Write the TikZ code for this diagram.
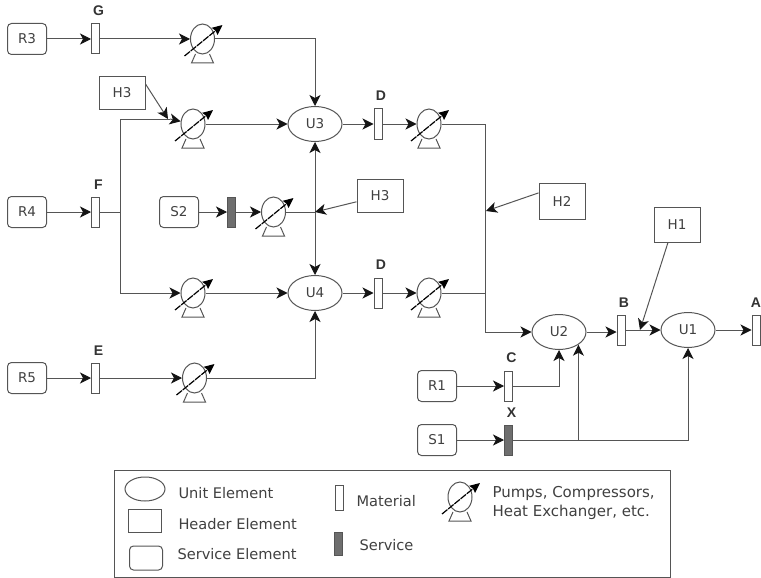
\documentclass[tikz,border=0pt]{standalone}
\usepackage{fontspec}
\usepackage{xcolor}
\usepackage{tikz}
\usetikzlibrary{arrows.meta,positioning,calc,shapes.geometric}
\setmainfont{DejaVu Sans}
\newfontfamily\tagfont{Liberation Sans}
\definecolor{procLine}{HTML}{555555}
\definecolor{procText}{HTML}{404040}
\definecolor{procFill}{HTML}{6E6E6E}
\definecolor{procTip}{HTML}{141414}
\tikzset{
  every node/.style={text=procText,font=\fontsize{13.5}{15}\selectfont},
  unitel/.style={draw=procLine,ellipse,minimum width=54pt,minimum height=35pt,inner sep=0pt},
  headerel/.style={draw=procLine,minimum width=46pt,minimum height=33pt,inner sep=0pt},
  serviceel/.style={draw=procLine,rounded corners=4pt,minimum width=39pt,minimum height=31pt,inner sep=0pt},
  matbar/.style={draw=procLine,fill=white,minimum width=8pt,minimum height=30pt,inner sep=0pt},
  svcbar/.style={matbar,fill=procFill},
  tagtext/.style={font=\tagfont\bfseries\fontsize{14}{15}\selectfont,text=black!80,inner sep=0pt,xshift=3pt},
  pumpbody/.style={draw=procLine,ellipse,minimum width=24pt,minimum height=30pt,inner sep=0pt},
  legtext/.style={font=\fontsize{14.6}{15}\selectfont,anchor=west,inner sep=0pt},
}
\newcommand{\pumpunit}[2]{%
  \node[pumpbody,#2] (#1) {};
  \draw[procLine] ($(#1)+(-7,15)$)--($(#1)+(-11,24)$)--($(#1)+(11,24)$)--($(#1)+(7,15)$);
  \draw[black,line width=1.2pt,dash pattern=on 7pt off 1pt,-{Stealth[length=10pt,width=9pt,inset=1pt]}] ($(#1)+(-18,17)$)--($(#1)+(20,-14)$);
}
\begin{document}
\begin{tikzpicture}[x=1pt,y=-1pt,>={Stealth[length=11pt,width=11pt,inset=3pt,color=procTip]},line width=1pt,draw=procLine]
\useasboundingbox (0,0) rectangle (761,578);
\node[serviceel] (rthree) at (27,39) {R3};
\node[matbar,right=44pt of rthree] (G) {};
\node[tagtext,above=7pt of G] (tagG) {G};
\pumpunit{pone}{right=90pt of G}
\node[unitel] (uthree) at (315,124) {U3};
\node[headerel] (hthreea) at (122,93) {H3};
\pumpunit{ptwo}{left=82pt of uthree}
\node[matbar,right=31pt of uthree] (Dtop) {};
\node[tagtext,above=8pt of Dtop] (tagDtop) {D};
\pumpunit{pthree}{right=34pt of Dtop}
\node[serviceel] (rfour) at (27,212) {R4};
\node[matbar,right=44pt of rfour] (F) {};
\node[tagtext,above=7pt of F] (tagF) {F};
\node[serviceel] (stwo) at (179,212) {S2};
\node[svcbar,right=28pt of stwo] (svctwo) {};
\pumpunit{psix}{right=25pt of svctwo}
\node[headerel] (hthreeb) at (380,196) {H3};
\node[headerel,minimum height=36pt] (htwo) at (562,201) {H2};
\node[unitel] (ufour) at (315,293) {U4};
\pumpunit{pfour}{left=82pt of ufour}
\node[matbar,right=31pt of ufour] (Dlow) {};
\node[tagtext,above=8pt of Dlow] (tagDlow) {D};
\pumpunit{pfive}{right=34pt of Dlow}
\node[serviceel] (rfive) at (27,378) {R5};
\node[matbar,right=44pt of rfive] (E) {};
\node[tagtext,above=7pt of E] (tagE) {E};
\pumpunit{pseven}{right=82pt of E}
\node[unitel] (utwo) at (559,332) {U2};
\node[matbar] (B) at (621,330) {};
\node[tagtext,above=7pt of B] (tagB) {B};
\node[unitel] (uone) at (688,330) {U1};
\node[matbar] (A) at (756,330) {};
\node[tagtext,above=7pt of A,xshift=-3pt] (tagA) {A};
\node[headerel,minimum height=35pt] (hone) at (677,225) {H1};
\node[serviceel] (rone) at (437,386) {R1};
\node[matbar,right=47pt of rone] (C) {};
\node[tagtext,above=7pt of C] (tagC) {C};
\node[serviceel] (sone) at (437,440) {S1};
\node[svcbar,right=47pt of sone] (X) {};
\node[tagtext,above=7pt of X] (tagX) {X};
\coordinate (ftee) at (120,212);
\coordinate (fjoin) at (170,119);
\coordinate (hjoin) at (168,119);
\coordinate (vtee) at (315,212);
\coordinate (lowtee) at (485,293);
\coordinate (htwoend) at (486,211);
\coordinate (bjoin) at (640,330);
\coordinate (xtee) at (utwo.south east |- X);
\draw[->] (rthree)--(G);
\draw[->] (G)--(pone);
\draw[->] (pone) -| (uthree);
\draw[->] (hthreea.21)--(hjoin);
\draw[->] (rfour)--(F);
\draw (F)--(ftee);
\draw (ftee) |- (fjoin);
\draw[->] (fjoin)--(ptwo);
\draw[->] (ftee) |- (pfour);
\draw[->] (ptwo)--(uthree);
\draw[->] (pfour)--(ufour);
\draw[->] (uthree)--(Dtop);
\draw[->] (ufour)--(Dlow);
\draw[->] (Dtop)--(pthree);
\draw[->] (Dlow)--(pfive);
\draw[->] (stwo)--(svctwo);
\draw[->] (svctwo)--(psix);
\draw (psix)--(vtee);
\draw[->] (vtee)--(uthree);
\draw[->] (vtee)--(ufour);
\draw[->] (hthreeb)--(vtee);
\draw[->] (rfive)--(E);
\draw[->] (E)--(pseven);
\draw[->] (pseven) -| (ufour);
\draw (pfive)--(lowtee);
\draw[->] (pthree) -| (lowtee |- utwo)--(utwo);
\draw[->] (htwo.161)--(htwoend);
\draw[->] (utwo)--(utwo -| B.west);
\draw[->] (B)--(uone);
\draw[->] (hone.-117)--(bjoin);
\draw[->] (uone)--(A);
\draw[->] (rone)--(C);
\draw[->] (C) -| (utwo);
\draw[->] (sone)--(X);
\draw[->] (X) -| (uone);
\draw[->] (xtee)--(utwo.south east);
\node[draw=procLine,minimum width=556pt,minimum height=107pt,inner sep=0pt] (legendbox) at (392,523.5) {};
\node[draw=procLine,ellipse,minimum width=40pt,minimum height=24pt,inner sep=0pt] (legunit) at (145,489) {};
\node[draw=procLine,minimum width=33pt,minimum height=23pt,inner sep=0pt] (legheader) at (145,521) {};
\node[draw=procLine,rounded corners=4pt,minimum width=33pt,minimum height=24pt,inner sep=0pt] (legservice) at (146,558) {};
\node[legtext] (legunittext) at (178,493) {Unit Element};
\node[legtext] (legheadertext) at (178,524) {Header Element};
\node[legtext] (legservicetext) at (177,554) {Service Element};
\node[matbar,minimum height=25pt] (legmat) at (339,498) {};
\node[svcbar,minimum height=23pt] (legsvc) at (338,544) {};
\node[legtext] (legmattext) at (356,501) {Material};
\node[legtext] (legsvctext) at (359,545) {Service};
\pumpunit{legpump}{at={(460,497)}}
\node[legtext,align=left,font=\fontsize{15}{19}\selectfont] (legpumptext) at (492,502.5) {Pumps, Compressors,\\Heat Exchanger, etc.};
\end{tikzpicture}
\end{document}
